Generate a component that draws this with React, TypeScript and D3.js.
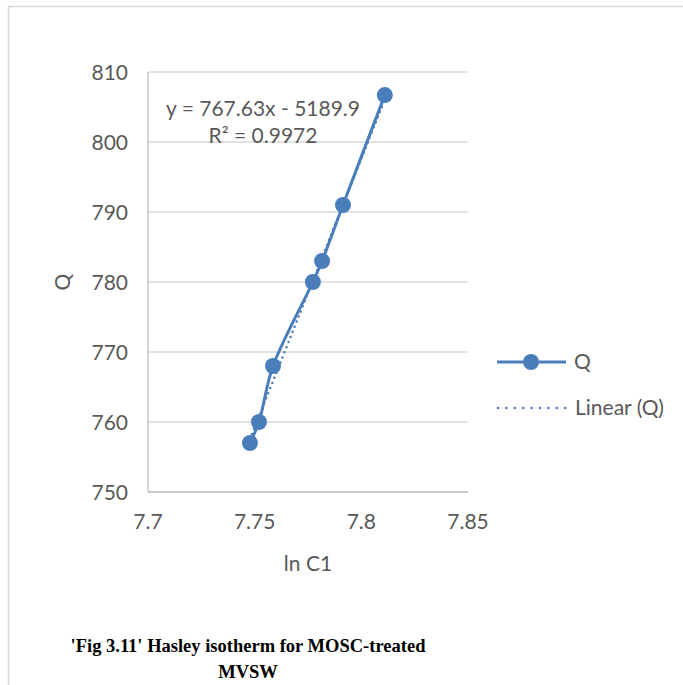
import React, { useEffect, useRef } from "react";
import * as d3 from "d3";

interface IPoint {
  x: number;
  y: number;
}

const lnC1: number[] = [7.7478, 7.752, 7.7586, 7.7773, 7.7816, 7.7914, 7.811];
const qValues: number[] = [757, 760, 768, 780, 783, 791, 806.7];
const xTicks: number[] = [7.7, 7.75, 7.8, 7.85];
const yTicks: number[] = [750, 760, 770, 780, 790, 800, 810];
const slope = 767.63;
const intercept = -5189.9;

const blue = "#4a7ebb";
const textColor = "#595959";
const font = "Lato, 'Open Sans', sans-serif";
const fs = 21;

function App() {
  const ref = useRef<SVGSVGElement | null>(null);

  useEffect(() => {
    const svg = d3.select(ref.current);
    svg.selectAll("*").remove();

    const x = d3.scaleLinear().domain([7.7, 7.85]).range([148, 468]);
    const y = d3.scaleLinear().domain([750, 810]).range([492, 72]);

    // outer frame (left and top edges only visible)
    svg
      .append("path")
      .attr("d", "M8.5,685 L8.5,6.5 L683,6.5")
      .attr("fill", "none")
      .attr("stroke", "#d9d9d9")
      .attr("stroke-width", 1.5);

    // gridlines
    yTicks.forEach((t) =>
      svg
        .append("line")
        .attr("x1", x(7.7))
        .attr("x2", x(7.85))
        .attr("y1", y(t))
        .attr("y2", y(t))
        .attr("stroke", "#d9d9d9")
        .attr("stroke-width", 1.3)
    );

    // axes lines
    svg
      .append("line")
      .attr("x1", x(7.7))
      .attr("x2", x(7.7))
      .attr("y1", y(810))
      .attr("y2", y(750))
      .attr("stroke", "#bfbfbf")
      .attr("stroke-width", 1.3);
    svg
      .append("line")
      .attr("x1", x(7.7))
      .attr("x2", x(7.85))
      .attr("y1", y(750))
      .attr("y2", y(750))
      .attr("stroke", "#bfbfbf")
      .attr("stroke-width", 1.3);

    // tick labels
    yTicks.forEach((t) =>
      svg
        .append("text")
        .attr("x", 128)
        .attr("y", y(t) + 7.5)
        .attr("text-anchor", "end")
        .attr("font-family", font)
        .attr("font-size", fs)
        .attr("fill", textColor)
        .text(t.toString())
    );
    xTicks.forEach((t) =>
      svg
        .append("text")
        .attr("x", x(t))
        .attr("y", 529)
        .attr("text-anchor", "middle")
        .attr("font-family", font)
        .attr("font-size", fs)
        .attr("fill", textColor)
        .text(t.toString())
    );

    // axis titles
    svg
      .append("text")
      .attr("transform", `translate(70,${y(780)}) rotate(-90)`)
      .attr("text-anchor", "middle")
      .attr("font-family", font)
      .attr("font-size", fs)
      .attr("fill", textColor)
      .text("Q");
    svg
      .append("text")
      .attr("x", 308)
      .attr("y", 571)
      .attr("text-anchor", "middle")
      .attr("font-family", font)
      .attr("font-size", fs)
      .attr("fill", textColor)
      .text("ln C1");

    const pts: IPoint[] = lnC1.map((v, i) => ({ x: v, y: qValues[i] }));

    // linear trendline
    const xMin = d3.min(lnC1) as number;
    const xMax = d3.max(lnC1) as number;
    svg
      .append("line")
      .attr("x1", x(xMin))
      .attr("y1", y(slope * xMin + intercept))
      .attr("x2", x(xMax))
      .attr("y2", y(slope * xMax + intercept))
      .attr("stroke", blue)
      .attr("stroke-width", 2.5)
      .attr("stroke-linecap", "round")
      .attr("stroke-dasharray", "0 5.5");

    // series line
    const line = d3
      .line<IPoint>()
      .x((d) => x(d.x))
      .y((d) => y(d.y))
      .curve(d3.curveCatmullRom.alpha(0.5));
    svg
      .append("path")
      .datum(pts)
      .attr("d", line)
      .attr("fill", "none")
      .attr("stroke", blue)
      .attr("stroke-width", 3);

    svg
      .selectAll("circle.pt")
      .data(pts)
      .enter()
      .append("circle")
      .attr("class", "pt")
      .attr("cx", (d) => x(d.x))
      .attr("cy", (d) => y(d.y))
      .attr("r", 8)
      .attr("fill", blue);

    // equation label
    svg
      .append("text")
      .attr("x", 263)
      .attr("y", 116)
      .attr("text-anchor", "middle")
      .attr("font-family", font)
      .attr("font-size", fs)
      .attr("fill", textColor)
      .text("y = 767.63x - 5189.9");
    svg
      .append("text")
      .attr("x", 263)
      .attr("y", 143)
      .attr("text-anchor", "middle")
      .attr("font-family", font)
      .attr("font-size", fs)
      .attr("fill", textColor)
      .text("R² = 0.9972");

    // legend
    svg
      .append("line")
      .attr("x1", 497)
      .attr("x2", 566)
      .attr("y1", 362)
      .attr("y2", 362)
      .attr("stroke", blue)
      .attr("stroke-width", 3);
    svg
      .append("circle")
      .attr("cx", 531)
      .attr("cy", 362)
      .attr("r", 8)
      .attr("fill", blue);
    svg
      .append("text")
      .attr("x", 574)
      .attr("y", 369)
      .attr("font-family", font)
      .attr("font-size", fs)
      .attr("fill", textColor)
      .text("Q");
    svg
      .append("line")
      .attr("x1", 498)
      .attr("x2", 566)
      .attr("y1", 408)
      .attr("y2", 408)
      .attr("stroke", blue)
      .attr("stroke-width", 2.5)
      .attr("stroke-linecap", "round")
      .attr("stroke-dasharray", "0 8.4");
    svg
      .append("text")
      .attr("x", 575)
      .attr("y", 415)
      .attr("font-family", font)
      .attr("font-size", fs)
      .attr("fill", textColor)
      .text("Linear (Q)");

    // caption
    const cap = svg
      .append("text")
      .attr("text-anchor", "middle")
      .attr("font-family", "'Liberation Serif', 'Times New Roman', serif")
      .attr("font-weight", "bold")
      .attr("font-size", 18.5)
      .attr("fill", "#000");
    cap.append("tspan").attr("x", 248).attr("y", 652).text("'Fig 3.11' Hasley isotherm for MOSC-treated");
    cap.append("tspan").attr("x", 248).attr("y", 678).text("MVSW");

    return () => {
      svg.selectAll("*").remove();
    };
  }, []);

  return (
    <svg
      ref={ref}
      width={683}
      height={685}
      style={{ position: "absolute", left: 0, top: 0, background: "#fff" }}
    />
  );
}

export default App;
